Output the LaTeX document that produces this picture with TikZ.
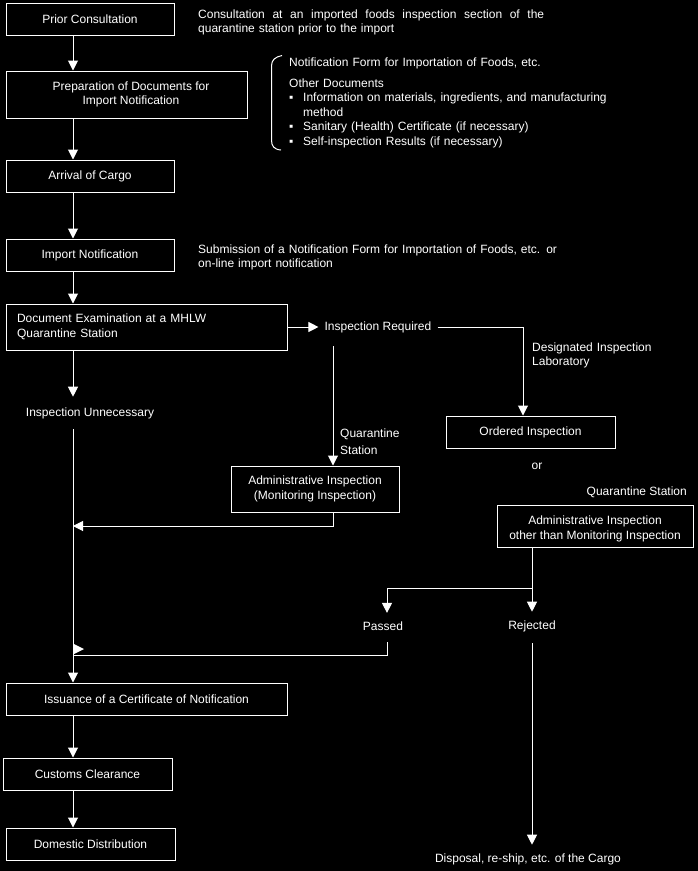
\documentclass[tikz,border=0pt]{standalone}
\usepackage{fontspec}
\setmainfont{Liberation Sans}
\usetikzlibrary{arrows.meta}
\begin{document}
\begin{tikzpicture}[x=1pt,y=-1pt,
  every node/.style={text=white,font=\fontsize{12pt}{14.5pt}\selectfont},
  stepbox/.style={draw=white,line width=1pt,inner sep=0pt,align=center},
  lbl/.style={inner sep=0pt},
  conn/.style={draw=white,line width=1pt},
  arr/.style={conn,-{Triangle[width=10pt,length=10pt]}},
]
\useasboundingbox (0,0) rectangle (698,871);
\fill[black] (0,0) rectangle (698,871);

% boxes
\node[stepbox,minimum width=168pt,minimum height=32pt] (prior) at (90,19) {Prior Consultation};
\node[stepbox,minimum width=241pt,minimum height=47pt] (prep) at (126.5,94.5) {\hspace*{9pt}Preparation of Documents for\\\hspace*{9pt}Import Notification};
\node[stepbox,minimum width=168pt,minimum height=32pt] (arrival) at (90,176) {Arrival of Cargo};
\node[stepbox,minimum width=168pt,minimum height=32pt] (importn) at (90,255) {Import Notification};
\node[stepbox,minimum width=281pt,minimum height=46pt,text width=259pt,align=left,inner xsep=11pt] (docex) at (146.5,327) {Document Examination at a MHLW\\Quarantine Station};
\node[stepbox,minimum width=168pt,minimum height=46pt] (adminmon) at (315,489) {Administrative Inspection\\(Monitoring Inspection)};
\node[stepbox,minimum width=169pt,minimum height=32pt] (ordered) at (530.5,432) {Ordered Inspection};
\node[stepbox,minimum width=196pt,minimum height=42pt] (adminoth) at (595,526) {\rule{0pt}{14pt}Administrative Inspection\\other than Monitoring Inspection};
\node[stepbox,minimum width=281pt,minimum height=32pt] (issue) at (146.5,699) {Issuance of a Certificate of Notification};
\node[stepbox,minimum width=169pt,minimum height=32pt] (customs) at (87.5,774) {Customs Clearance};
\node[stepbox,minimum width=169pt,minimum height=32pt] (domestic) at (90.5,844) {Domestic Distribution};

% state texts
\node[lbl,inner xsep=6pt,inner ysep=13.5pt] (req) at (378,327) {Inspection Required};
\node[lbl,inner ysep=10.5pt] (unnec) at (90,413) {Inspection Unnecessary};
\node[lbl,inner ysep=8.5pt] (passed) at (383,626) {Passed};
\node[lbl,inner ysep=8.5pt] (rej) at (532,626) {Rejected};
\node[lbl,inner ysep=8.5pt] (disp) at (528,859) {Disposal, re-ship, etc. of the Cargo};

% side texts
\node[lbl,anchor=base west,text width=346pt,align=left] (consult) at (198,18) {\makebox[346pt][l]{Consultation\hfill at\hfill an\hfill imported\hfill foods\hfill inspection\hfill section\hfill of\hfill the}\\quarantine station prior to the import};
\node[lbl,anchor=base west,text width=400pt,align=left] (submit) at (198,253) {Submission of a Notification Form for Importation of Foods, etc. or\\on-line import notification};
\node[lbl,anchor=base west,text width=380pt,align=left] (docs) at (289,66) {Notification Form for Importation of Foods, etc.\\[6.5pt]
Other Documents\\
\makebox[14pt][l]{▪}Information on materials, ingredients, and manufacturing\\
\hspace*{14pt}method\\
\makebox[14pt][l]{▪}Sanitary (Health) Certificate (if necessary)\\
\makebox[14pt][l]{▪}Self-inspection Results (if necessary)};
\node[lbl,anchor=base west,text width=100pt,align=left,font=\fontsize{12pt}{17.4pt}\selectfont] (qs1) at (340,437.5) {Quarantine\\Station};
\node[lbl,anchor=base west,text width=140pt,align=left] (dil) at (532,351) {Designated Inspection\\Laboratory};
\node[lbl,anchor=base] (or) at (537,469) {or};
\node[lbl,anchor=base east] (qs2) at (687,495) {Quarantine Station};

% coordinates
\coordinate (ax) at (73,0);
\coordinate (qx) at (333,0);
\coordinate (dx) at (523,0);
\coordinate (rx) at (532,0);
\coordinate (px) at (387,0);
\coordinate (br) at (532,588);
\coordinate (j1) at (73,526);
\coordinate (j2) at (73,655);
\coordinate (ps) at ([yshift=-3pt]passed.south);
\coordinate (rs) at ([yshift=-3pt]rej.south);

% connectors
\draw[arr] (prior.south -| ax) -- (prep.north -| ax);
\draw[arr] (prep.south -| ax) -- (arrival.north -| ax);
\draw[arr] (arrival.south -| ax) -- (importn.north -| ax);
\draw[arr] (importn.south -| ax) -- (docex.north -| ax);
\draw[arr] (docex.south -| ax) -- (unnec.north -| ax);
\draw[arr] (unnec.south -| ax) -- (issue.north -| ax);
\draw[arr] (issue.south -| ax) -- (customs.north -| ax);
\draw[arr] (customs.south -| ax) -- (domestic.north -| ax);
\draw[arr] (docex.east |- req.west) -- (req.west);
\draw[arr] (req.east) -| (ordered.north -| dx);
\draw[arr] (req.south -| qx) -- (adminmon.north -| qx);
\draw[arr] (adminmon.south -| qx) |- (j1);
\draw[arr] (adminoth.south -| rx) -- (rej.north);
\draw[arr] (br) -| (passed.north -| px);
\draw[conn] (ps -| px) |- (j2);
\fill[white] (74,644) -- (74,654) -- (84,649) -- cycle;
\draw[arr] (rs) -- (disp.north -| rx);

% brace
\draw[conn] (282,55.5) .. controls (275,57) and (271.5,60) .. (271.5,66) -- (271.5,140) .. controls (271.5,146) and (274,149.5) .. (281,150);
\end{tikzpicture}
\end{document}
